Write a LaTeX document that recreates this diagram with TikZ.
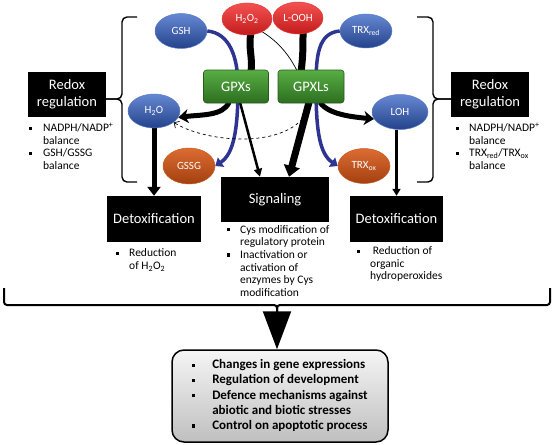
\documentclass[tikz,border=0pt]{standalone}
\usepackage{fontspec}
\setmainfont{Carlito}
\usetikzlibrary{shapes.geometric,arrows.meta,calc}
\pgfdeclarelayer{bg}
\pgfsetlayers{bg,main}
\newcommand\sqb{\rule[1.8pt]{3.2pt}{3.2pt}}
\definecolor{bluetop}{HTML}{6688D2}
\definecolor{bluebot}{HTML}{24428C}
\definecolor{blueedge}{HTML}{5A7CC8}
\definecolor{redtop}{HTML}{F45252}
\definecolor{redbot}{HTML}{C41B1B}
\definecolor{rededge}{HTML}{E23A3A}
\definecolor{browntop}{HTML}{DC6C32}
\definecolor{brownbot}{HTML}{A3400F}
\definecolor{brownedge}{HTML}{C85A22}
\definecolor{greentop}{HTML}{58AE44}
\definecolor{greenbot}{HTML}{2D6E20}
\definecolor{greenedge}{HTML}{2A5A1E}
\definecolor{blueline}{HTML}{2E3492}
\begin{document}
\begin{tikzpicture}[x=1pt,y=-1pt,
  ell/.style={ellipse,inner sep=0pt,text=white,font=\fontsize{11}{12}\selectfont,line width=0.5pt},
  blueell/.style={ell,top color=bluetop,bottom color=bluebot,draw=blueedge},
  redell/.style={ell,top color=redtop,bottom color=redbot,draw=rededge},
  brownell/.style={ell,top color=browntop,bottom color=brownbot,draw=brownedge},
  enz/.style={rectangle,rounded corners=3pt,inner sep=0pt,text=white,font=\fontsize{14.5}{16}\selectfont,top color=greentop,bottom color=greenbot,draw=greenedge,line width=0.6pt,minimum width=65pt,minimum height=33pt},
  blk/.style={rectangle,fill=black,text=white,inner sep=0pt,align=center,font=\fontsize{14.5}{17}\selectfont},
  bul/.style={inner sep=0pt,anchor=north west,font=\fontsize{11.5}{12.7}\selectfont},
  bluearrow/.style={draw=blueline,line width=3.5pt,-{Triangle[width=11pt,length=7pt]}},
  band/.style={draw=black,line width=#1},
  bracket/.style={draw=black,line width=1.4pt,rounded corners=5pt}
]
\useasboundingbox (0,0) rectangle (553,444);

% ellipses
\node[blueell,minimum width=52pt,minimum height=35pt] (gsh) at (181,31) {GSH};
\node[redell,minimum width=50pt,minimum height=32pt] (h2o2) at (247,19) {H\textsubscript{2}O\textsubscript{2}};
\node[redell,minimum width=50pt,minimum height=32pt] (looh) at (298,18) {L-OOH};
\node[blueell,minimum width=52pt,minimum height=34pt] (trxred) at (366,31) {TRX\textsubscript{red}};
\node[blueell,minimum width=52pt,minimum height=34pt] (h2o) at (154,111) {H\textsubscript{2}O};
\node[blueell,minimum width=56pt,minimum height=35pt] (loh) at (400,112) {LOH};
\node[brownell,minimum width=52pt,minimum height=36pt] (gssg) at (189,166) {GSSG};
\node[brownell,minimum width=52pt,minimum height=35pt] (trxox) at (364,166) {TRX\textsubscript{ox}};

% enzymes
\node[enz] (gpxs) at (236,86.5) {GPXs};
\node[enz,minimum width=66pt] (gpxls) at (311,86.5) {GPXLs};

% black boxes
\node[blk,minimum width=78pt,minimum height=45pt] (redoxl) at (67,94.5) {Redox\\regulation};
\node[blk,minimum width=78pt,minimum height=45pt] (redoxr) at (490,94.5) {Redox\\regulation};
\node[blk,minimum width=94pt,minimum height=46pt] (detoxl) at (154,219) {Detoxification};
\node[blk,minimum width=108pt,minimum height=45pt] (signal) at (275,199.5) {Signaling};
\node[blk,minimum width=93pt,minimum height=46pt] (detoxr) at (396.5,219) {Detoxification};

% bullet texts
\node[bul] (bl) at (29,122.5) {\begin{tabular}{@{}p{14pt}@{}l@{}}\sqb & NADPH/NADP\textsuperscript{+}\\ & balance\\ \sqb & GSH/GSSG\\ & balance\end{tabular}};
\node[bul] (br) at (456,122.5) {\begin{tabular}{@{}p{13pt}@{}l@{}}\sqb & NADPH/NADP\textsuperscript{+}\\ & balance\\ \sqb & TRX\textsubscript{red}/TRX\textsubscript{ox}\\ & balance\end{tabular}};
\node[bul] (bdl) at (116,247.5) {\begin{tabular}{@{}p{13pt}@{}l@{}}\sqb & Reduction\\ & of H\textsubscript{2}O\textsubscript{2}\end{tabular}};
\node[bul] (bs) at (227,224) {\begin{tabular}{@{}p{13pt}@{}l@{}}\sqb & Cys modification of\\ & regulatory protein\\ \sqb & Inactivation or\\ & activation of\\ & enzymes by Cys\\ & modification\end{tabular}};
\node[bul] (bdr) at (357,245.5) {\begin{tabular}{@{}p{13pt}@{}l@{}}\sqb & \ Reduction of\\ & organic\\ & hydroperoxides\end{tabular}};

% outcome box
\node[rectangle,rounded corners=12pt,draw=black,line width=1.5pt,top color=gray!8,bottom color=gray!50,minimum width=216pt,minimum height=92pt,inner sep=0pt,font=\fontsize{13}{15.2}\selectfont\bfseries] (out) at (280,396)
 {\begin{tabular}{@{}p{20pt}@{}l@{}}\sqb & Changes in gene expressions\\ \sqb & Regulation of development\\ \sqb & Defence mechanisms against\\ & abiotic and biotic stresses\\ \sqb & Control on apoptotic process\end{tabular}};

% connectors (behind nodes)
\begin{pgfonlayer}{bg}
\draw[band=7pt] ($(h2o2.south)+(4,-3)$) .. controls +(-3,16) and +(2,-14) .. ($(gpxs.north)+(15,2)$);
\draw[band=7pt] ($(looh.south)+(5,-3)$) .. controls +(0,16) and +(2,-14) .. ($(gpxls.north)+(-10,2)$);
\draw[band=0.7pt] (h2o2.-40) .. controls +(16,10) and +(-8,-16) .. ($(gpxls.north)+(-14,1)$);
\draw[bluearrow] (gsh.east) .. controls +(22,2) and +(0,-30) .. ($(gpxs.center)+(2,0)$) .. controls +(0,45) and +(18,-12) .. (gssg.east);
\draw[bluearrow] (trxred.west) .. controls +(-22,2) and +(0,-30) .. ($(gpxls.center)+(5,0)$) .. controls +(0,45) and +(-18,-12) .. (trxox.west);
\draw[dashed,line width=0.7pt,-{Straight Barb[length=4pt,width=8pt]}] (gpxls.south) .. controls +(-13,47) and +(35,22) .. (h2o.-30);
\draw[band=5pt,-{Stealth[width=14pt,length=10pt,inset=3pt]}] ($(gpxs.south)+(-7,-1)$) .. controls +(-6,14) and +(22,-3) .. (h2o.-15);
\draw[band=5pt,-{Stealth[width=14pt,length=10pt,inset=3pt]}] ($(gpxls.south)+(9,-1)$) .. controls +(8,12) and +(-22,-2) .. (loh.195);
\draw[band=2.5pt,-{Triangle[width=8pt,length=8pt]}] ($(gpxs.south)+(4,-1)$) -- ($(signal.north)+(-15,0)$);
\draw[band=7pt,-{Triangle[width=16pt,length=11pt]}] ($(gpxls.south)+(-2,-1)$) -- ($(signal.north)+(14,0)$);
\draw[band=5pt,-{Triangle[width=13pt,length=9pt]}] (h2o.south) -- (detoxl.north);
\draw[band=2.5pt,-{Triangle[width=8pt,length=7pt]}] (detoxr.north |- loh.south) -- (detoxr.north);
\end{pgfonlayer}

% braces
\draw[bracket] (137,17) -- (122,17) -- (122,99) -- (redoxl.east |- 0,99);
\draw[bracket] (137,182) -- (122,182) -- (122,99) -- (redoxl.east |- 0,99);
\draw[bracket] (417,17) -- (433,17) -- (433,99) -- (redoxr.west |- 0,99);
\draw[bracket] (417,182) -- (433,182) -- (433,99) -- (redoxr.west |- 0,99);

\coordinate (bt) at (277,305);
\draw[bracket,line width=2pt,rounded corners=3pt] (4,288) -- (4,305) -- (277,305) -- (277,313);
\draw[bracket,line width=2pt,rounded corners=3pt] (550,288) -- (550,305) -- (277,305) -- (277,313);
\draw[line width=2pt,-{Triangle[width=28pt,length=38pt]}] (bt) -- (bt |- out.north);
\end{tikzpicture}
\end{document}
